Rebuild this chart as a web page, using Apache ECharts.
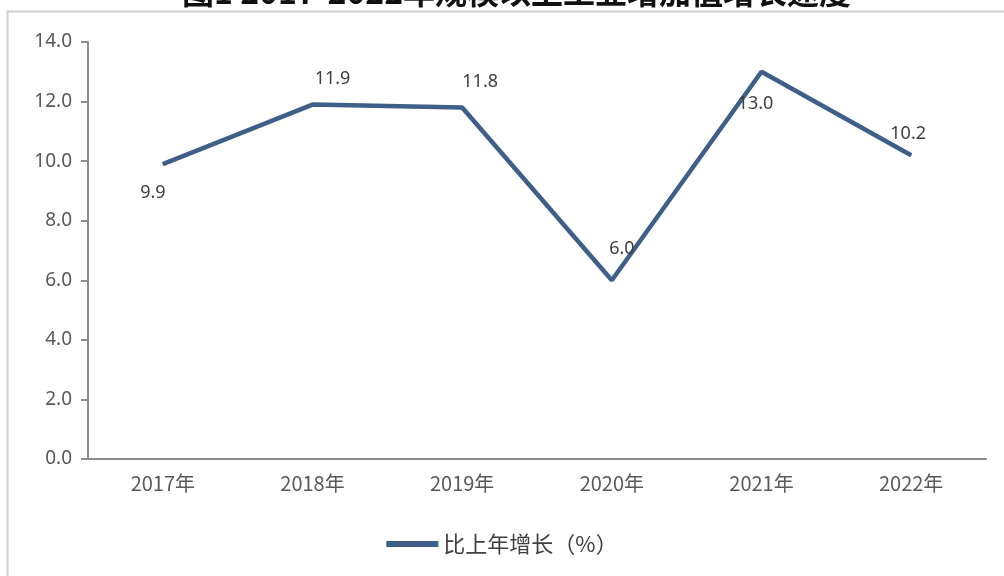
<!DOCTYPE html>
<html><head><meta charset="utf-8">
<script src="https://cdn.jsdelivr.net/npm/echarts@6/dist/echarts.min.js"></script>
<style>html,body{margin:0;padding:0;background:#fff}#c{width:1004px;height:576px}</style>
</head><body><div id="c"></div>
<script>
const titleText = '图1 2017-2022年规模以上工业增加值增长速度';
const categories = ['2017年','2018年','2019年','2020年','2021年','2022年'];
const seriesName = '比上年增长（%）';
const values = [9.9, 11.9, 11.8, 6.0, 13.0, 10.2];
const yTicks = [0, 2, 4, 6, 8, 10, 12, 14];

const labelPos = [
  {position:'bottom', offset:[-10,14]},
  {position:'top', offset:[20,-11]},
  {position:'top', offset:[18,-11]},
  {position:'top', offset:[10,-17]},
  {position:'bottom', offset:[-6,18]},
  {position:'top', offset:[-3,-7]}
];

const chart = echarts.init(document.getElementById('c'));
chart.setOption({
  animation:false,
  backgroundColor:'#fff',
  graphic:[
    {type:'text', left:182, top:-24, style:{text:titleText, font:'bold 32px "Noto Sans CJK SC"', fill:'#111'}},
    {type:'rect', shape:{x:7.5, y:11.5, width:1010, height:600}, style:{fill:'none', stroke:'#d0d0d0', lineWidth:2}}
  ],
  grid:{left:88, right:18, top:42, bottom:117},
  legend:{
    bottom:16, left:'center', itemWidth:52, itemHeight:6, itemGap:2,
    icon:'rect',
    textStyle:{fontSize:22, color:'#404040', fontFamily:'"Noto Sans CJK SC"'},
    data:[seriesName]
  },
  xAxis:{
    type:'category', data:categories, boundaryGap:true,
    axisLine:{lineStyle:{color:'#8c8c8c', width:2}},
    axisTick:{show:false},
    axisLabel:{fontSize:20, color:'#595959', margin:14, fontFamily:'"Noto Sans CJK SC"'}
  },
  yAxis:{
    type:'value', min:0, max:14, interval:2,
    axisLine:{show:true, lineStyle:{color:'#8c8c8c', width:2}},
    axisTick:{show:true, inside:false, length:7, lineStyle:{color:'#8c8c8c', width:2}},
    splitLine:{show:false},
    axisLabel:{fontSize:19, color:'#595959', margin:16, formatter:v=>v.toFixed(1), fontFamily:'"Noto Sans"'}
  },
  series:[{
    name:seriesName, type:'line', showSymbol:true, symbol:'circle', symbolSize:1,
    lineStyle:{color:'#3d5f88', width:4.5},
    itemStyle:{color:'#3d5f88'},
    data: values.map((v,i)=>({value:v, label:Object.assign({show:true}, labelPos[i])})),
    label:{show:true, fontSize:18, color:'#404040', formatter:p=>p.value.toFixed(1), fontFamily:'"Noto Sans"'}
  }]
});
</script></body></html>
